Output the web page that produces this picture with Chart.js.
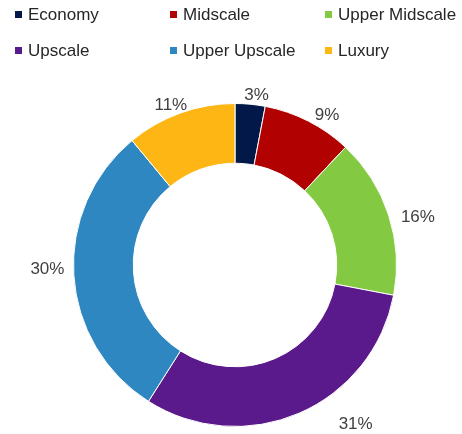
<!DOCTYPE html>
<html>
<head>
<meta charset="utf-8">
<script src="https://cdn.jsdelivr.net/npm/chart.js@4/dist/chart.umd.min.js"></script>
<style>
  html, body { margin:0; padding:0; background:#fff; }
  #wrap { position:relative; width:462px; height:434px; overflow:hidden; }
  #legend { position:absolute; left:0; top:0; width:462px; font-family:"Liberation Sans", Arial, sans-serif; font-size:17px; color:#262626; }
  .item { position:absolute; white-space:nowrap; line-height:20px; }
  .box { position:absolute; width:7px; height:7px; left:0; top:6px; }
  .txt { position:absolute; left:13px; top:0; }
</style>
</head>
<body>
<div id="wrap">
  <canvas id="pie" width="462" height="434"></canvas>
  <div id="legend"></div>
</div>
<script>
const categories = ["Economy", "Midscale", "Upper Midscale", "Upscale", "Upper Upscale", "Luxury"];
const shares = [3, 9, 16, 31, 30, 11];
const colors = ["#011848", "#b10101", "#84c942", "#5b1a8b", "#2e87c1", "#fdb614"];
// hand tweaks of the percent labels (px), as in the original layout
const labelNudge = [[-3, 4], [3, 6], [3, 1], [31, -1], [-2, 0], [-11, 11]];

// legend: 3 columns, 2 rows
const leg = document.getElementById("legend");
categories.forEach((c, i) => {
  const d = document.createElement("div");
  d.className = "item";
  d.style.left = (15 + (i % 3) * 155) + "px";
  d.style.top = (5 + Math.floor(i / 3) * 36) + "px";
  d.innerHTML = `<span class="box" style="background:${colors[i]}"></span><span class="txt">${c}</span>`;
  leg.appendChild(d);
});

// percent labels outside the ring; slide along the ring if they would fall off the canvas
const outsideLabels = {
  id: "outsideLabels",
  afterDatasetsDraw(chart){
    const ctx = chart.ctx;
    const meta = chart.getDatasetMeta(0);
    ctx.save();
    ctx.font = '17px "Liberation Sans", Arial, sans-serif';
    ctx.fillStyle = "#404040";
    ctx.textAlign = "center";
    ctx.textBaseline = "middle";
    const h = 13, gap = 7, bottom = chart.height - 3;
    meta.data.forEach((arc, i) => {
      const p = arc.getProps(["x","y","startAngle","endAngle","outerRadius"], true);
      const txt = shares[i] + "%";
      const w = ctx.measureText(txt).width;
      const place = a => {
        const cx = Math.cos(a), cy = Math.sin(a);
        const r = p.outerRadius + gap + Math.abs(cx) * w / 2 + Math.abs(cy) * h / 2;
        return [p.x + cx * r, p.y + cy * r];
      };
      let a = (p.startAngle + p.endAngle) / 2 + 0.045;
      let pos = place(a);
      let n = 0;
      while (pos[1] + h / 2 > bottom && n++ < 90) {
        a += Math.cos(a) >= 0 ? -0.01 : 0.01;
        pos = place(a);
      }
      const nd = labelNudge[i] || [0, 0];
      ctx.fillText(txt, pos[0] + nd[0], pos[1] + 1 + nd[1]);
    });
    ctx.restore();
  }
};

new Chart(document.getElementById("pie"), {
  type: "doughnut",
  data: { labels: categories, datasets: [{ data: shares, backgroundColor: colors, borderColor: "#fff", borderWidth: 1 }] },
  options: {
    responsive: false,
    animation: false,
    cutout: "63%",
    layout: { padding: { top: 103, left: 73, right: 65, bottom: 7 } },
    plugins: { legend: { display: false }, tooltip: { enabled: false } }
  },
  plugins: [outsideLabels]
});
</script>
</body>
</html>
